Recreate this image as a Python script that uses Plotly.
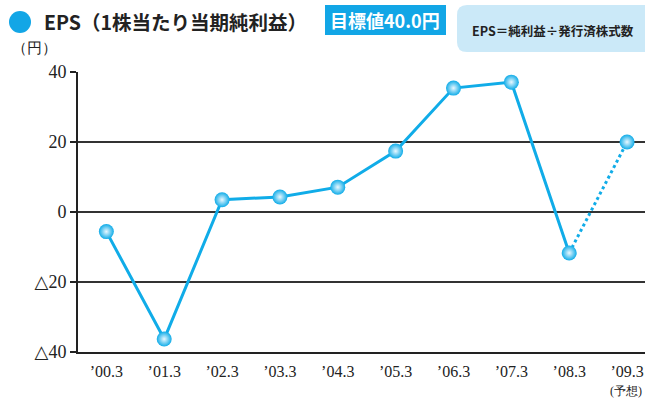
import plotly.graph_objects as go

# ─── Données ─────────────────────────────────────────────────────────────────
periodes = ["’00.3", "’01.3", "’02.3", "’03.3", "’04.3",
            "’05.3", "’06.3", "’07.3", "’08.3", "’09.3"]
eps = [-5.6, -36.3, 3.5, 4.3, 7.1, 17.4, 35.4, 37.1, -11.7, 20.0]
y_ticks = [-40, -20, 0, 20, 40]
y_labels = ["△40", "△20", "0", "20", "40"]

# ─── Style ───────────────────────────────────────────────────────────────────
C_LINE = "#10ACE8"
C_BOX = "#12A6E6"
C_BOX_LIGHT = "#CBE9F8"
C_TXT = "#222222"
SERIF = "Liberation Serif, DejaVu Serif, serif"
SANS = "Noto Sans CJK JP, Noto Sans, sans-serif"

W, H = 645, 400
# zone de tracé, en pixels
X_LEFT, X_RIGHT, Y_TOP, Y_BOT = 78, 645, 72, 352
PW, PH = X_RIGHT - X_LEFT, Y_BOT - Y_TOP


def px(x):
    return (x - X_LEFT) / PW


def py(y):
    return (Y_BOT - y) / PH


idx = list(range(len(periodes)))

fig = go.Figure()

# ligne réelle
fig.add_trace(go.Scatter(
    x=idx[:-1], y=eps[:-1], mode="lines",
    line=dict(color=C_LINE, width=3),
    hoverinfo="skip", showlegend=False,
))
# prévision (pointillés)
fig.add_trace(go.Scatter(
    x=idx[-2:], y=eps[-2:], mode="lines",
    line=dict(color=C_LINE, width=3, dash="dot"),
    hoverinfo="skip", showlegend=False,
))
# points
fig.add_trace(go.Scatter(
    x=idx, y=eps, mode="markers",
    marker=dict(size=15, color=C_LINE, line=dict(width=0),
                gradient=dict(type="radial", color="#EAF8FF")),
    text=periodes,
    hovertemplate="%{text}<br>%{y:.1f} 円<extra></extra>",
    showlegend=False,
))

shapes = [
    # pastille du titre
    dict(type="circle", xref="paper", yref="paper",
         x0=px(9), x1=px(31), y0=py(33), y1=py(11),
         fillcolor=C_BOX, line=dict(width=0)),
    # encadré objectif
    dict(type="rect", xref="paper", yref="paper",
         x0=px(325), x1=px(446), y0=py(35), y1=py(5),
         fillcolor=C_BOX, line=dict(width=0)),
]

# encadré arrondi (formule)
x0, x1, y0, y1, r = 457, 655, 5, 52, 10
pts = [
    f"M {px(x0 + r)},{py(y0)}",
    f"L {px(x1 - r)},{py(y0)}",
    f"Q {px(x1)},{py(y0)} {px(x1)},{py(y0 + r)}",
    f"L {px(x1)},{py(y1 - r)}",
    f"Q {px(x1)},{py(y1)} {px(x1 - r)},{py(y1)}",
    f"L {px(x0 + r)},{py(y1)}",
    f"Q {px(x0)},{py(y1)} {px(x0)},{py(y1 - r)}",
    f"L {px(x0)},{py(y0 + r)}",
    f"Q {px(x0)},{py(y0)} {px(x0 + r)},{py(y0)} Z",
]
shapes.append(dict(type="path", xref="paper", yref="paper", path=" ".join(pts),
                   fillcolor=C_BOX_LIGHT, line=dict(width=0)))

annotations = [
    dict(text="<b>EPS（1株当たり当期純利益）</b>", x=px(42), y=py(22),
         font=dict(family=SANS, size=19.5, color=C_TXT)),
    dict(text="<b>目標値40.0円</b>", x=px(385), y=py(20), xanchor="center",
         font=dict(family=SANS, size=18, color="white")),
    dict(text="<b>EPS＝純利益÷発行済株式数</b>", x=px(553), y=py(30), xanchor="center",
         font=dict(family=SANS, size=12.5, color=C_TXT)),
    dict(text="（円）", x=px(10), y=py(48),
         font=dict(family=SERIF, size=15, color=C_TXT)),
    dict(text="(予想)", x=px(644), y=py(391), xanchor="right",
         font=dict(family=SERIF, size=12, color=C_TXT)),
]
for a in annotations:
    a.setdefault("xanchor", "left")
    a.update(xref="paper", yref="paper", yanchor="middle", showarrow=False)

fig.update_layout(
    width=W, height=H,
    margin=dict(l=X_LEFT, r=W - X_RIGHT, t=Y_TOP, b=H - Y_BOT),
    plot_bgcolor="white", paper_bgcolor="white",
    shapes=shapes, annotations=annotations,
    showlegend=False,
)
fig.update_xaxes(
    range=[-0.49, 9.31],
    tickvals=idx, ticktext=periodes,
    tickfont=dict(family=SERIF, size=16, color=C_TXT),
    showgrid=False, zeroline=False,
    showline=True, linecolor="#222222", linewidth=2,
    ticks="", ticklabelstandoff=4,
)
fig.update_yaxes(
    range=[-40, 40],
    tickvals=y_ticks, ticktext=y_labels,
    tickfont=dict(family=SERIF, size=18, color=C_TXT),
    showgrid=True, gridcolor="#333333", gridwidth=1.5,
    zeroline=False,
    showline=True, linecolor="#222222", linewidth=2,
    ticks="outside", ticklen=6, tickcolor="#222222", tickwidth=1.5,
)

# pas de marge de page autour du graphique
fig.write_html("out.html",
               config={"displayModeBar": False},
               post_script="document.body.style.margin='0';"
                           "document.body.style.overflow='hidden';")
